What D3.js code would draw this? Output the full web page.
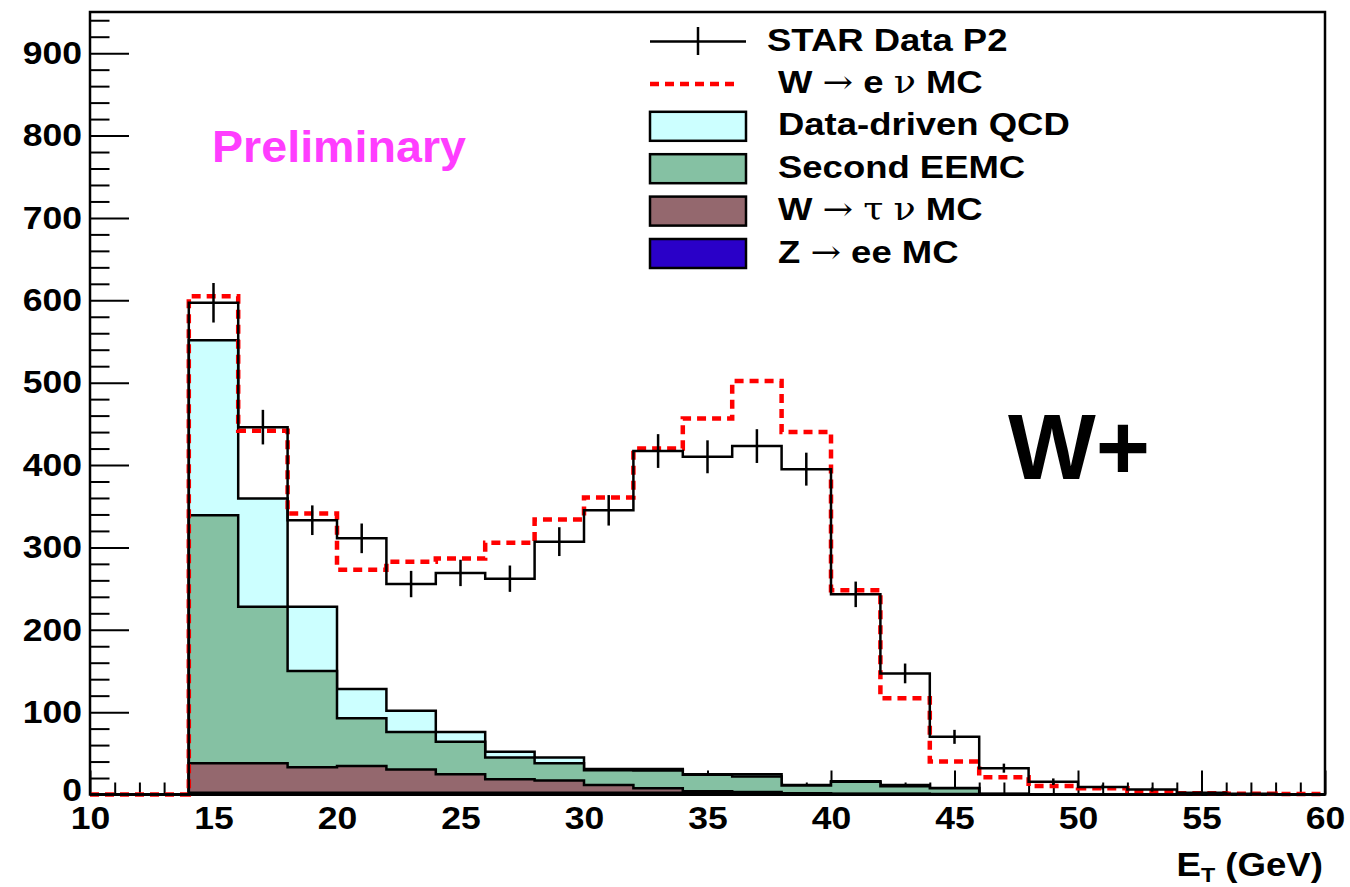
<!DOCTYPE html>
<html><head><meta charset="utf-8">
<script src="https://cdn.jsdelivr.net/npm/d3@7"></script>
<style>
body{margin:0;background:#fff}
svg{display:block}
text{font-family:"Liberation Sans",Arial,Helvetica,sans-serif;font-weight:bold;fill:#000}
</style>
</head><body>
<svg id="chart" width="1350" height="887"></svg>
<script>
// ---- data (bins of 2 GeV, low edges) ----
const binLow = [10,12,14,16,18,20,22,24,26,28,30,32,34,36,38,40,42,44,46,48,50,52,54,56,58];
const binWidth = 2;
const dataCounts = [0,0,597,446,333,311,255.5,269,262,307,345,417,410,423,395,243,147,70,32,15.5,9,6,2,1,0];
const dataErrors = [0,0,24,21,18,18,16,16,16,17.5,18.5,20.5,20,20.5,20,15.5,12,8.5,5.5,4,3,2.5,1.5,1,0];
const zee   = [0,0,2,2,2,2,2,2,2,2,2,2,1.5,1,1,0.5,0.5,0.3,0,0,0,0,0,0,0];
const wtau  = [0,0,36,36,31,32.5,28.5,22.5,16.5,15,9.5,5.5,2.5,2,0.5,0.5,0.3,0.2,0,0,0,0,0,0,0];
const eemc  = [0,0,301,190,117,58,45.5,39.5,26.5,21,18,21.5,20,19,9.5,14.5,9.2,7,0.5,0.2,0,0,0,0,0];
const qcd   = [0,0,212.5,131.5,78,35.5,25.7,12,7,7,1.5,2,0.5,2.5,0.5,0.5,1.5,0.5,0.3,0.1,0,0,0,0,0];
const wenu  = [0,0,53.5,82,113,145,180.8,210.6,253.6,289,329.7,389,432,477.5,428.5,232,105.5,32,20.2,10,7.5,4,1.5,1,0.5];

const xMajor = [10,15,20,25,30,35,40,45,50,55,60];
const yMajor = [0,100,200,300,400,500,600,700,800,900];

const legendLabels = ["STAR Data P2","W → e ν MC","Data-driven QCD","Second EEMC","W → τ ν MC","Z → ee MC"];
const colors = {qcd:"#ccffff", eemc:"#85c1a3", wtau:"#94686e", zee:"#2a00c8", wenu:"#ff0000"};

// ---- layout ----
const svg = d3.select("#chart");
const L = 90, R = 1325, T = 12, B = 794.5;
const x = d3.scaleLinear().domain([10,60]).range([L,R]);
const y = d3.scaleLinear().domain([0,950]).range([B,T]);
const SX = 1.11;

// minor ticks
const xMinor = d3.range(10,61,1).filter(v=>v%5!==0);
const yMinor = d3.range(0,950,20).filter(v=>v%100!==0);

// axes (drawn first so fills cover ticks, like the original)
const gx = svg.append("g").attr("transform",`translate(0,${B})`);
gx.call(d3.axisBottom(x).tickValues(xMinor).tickSize(-12).tickSizeOuter(0).tickFormat(""));
gx.call(g=>g.select(".domain").remove());
const gx2 = svg.append("g").attr("transform",`translate(0,${B})`);
gx2.call(d3.axisBottom(x).tickValues(xMajor).tickSize(-24).tickSizeOuter(0).tickPadding(12).tickFormat(d3.format("d")));
gx2.select(".domain").remove();

const gy = svg.append("g").attr("transform",`translate(${L},0)`);
gy.call(d3.axisLeft(y).tickValues(yMinor).tickSize(-19.5).tickSizeOuter(0).tickFormat(""));
gy.select(".domain").remove();
const gy2 = svg.append("g").attr("transform",`translate(${L},0)`);
gy2.call(d3.axisLeft(y).tickValues(yMajor).tickSize(-39).tickSizeOuter(0).tickPadding(8).tickFormat(d3.format("d")));
gy2.select(".domain").remove();

svg.selectAll(".tick line").attr("stroke","#000").attr("stroke-width",2);
svg.selectAll(".tick text").style("font-size","32px").attr("fill","#000")
  .attr("font-family",null)
  .each(function(d){
    const t = d3.select(this);
    const xx = +t.attr("x")||0;
    let yy = +t.attr("y")||0;
    // the "0" of the y axis sits just above the "10" of the x axis, as in the original
    if (this.parentNode.parentNode === gy2.node() && d === 0) yy -= 4;
    t.attr("transform",`translate(${xx},${yy}) scale(${SX},1)`).attr("x",0).attr("y",0);
  });

// ---- stacked backgrounds ----
const rows = binLow.map((b,i)=>({b, zee:zee[i], wtau:wtau[i], eemc:eemc[i], qcd:qcd[i], wenu:wenu[i]}));
rows.push(Object.assign({}, rows[rows.length-1], {b: binLow[binLow.length-1]+binWidth}));
const stack = d3.stack().keys(["zee","wtau","eemc","qcd","wenu"])(rows);
const byKey = {}; stack.forEach(s=>byKey[s.key]=s);

const area = d3.area().curve(d3.curveStepAfter).x(d=>x(d.data.b)).y0(y(0)).y1(d=>y(d[1]));
const line = d3.line().curve(d3.curveStepAfter).x(d=>x(d.data.b)).y(d=>y(d[1]));

["qcd","eemc","wtau","zee"].forEach(k=>{
  svg.append("path").datum(byKey[k]).attr("d",area)
    .attr("fill",colors[k]).attr("stroke","#000").attr("stroke-width",2.5).attr("stroke-linejoin","miter");
});

// total MC (W->e nu on top of backgrounds), red dashed
svg.append("path").datum(byKey["wenu"]).attr("d",line)
  .attr("fill","none").attr("stroke",colors.wenu).attr("stroke-width",4.5).attr("stroke-dasharray","9,6");

// ---- data ----
const dataPts = binLow.map((b,i)=>({b, v:dataCounts[i], e:dataErrors[i]}));
dataPts.push({b: binLow[binLow.length-1]+binWidth, v: dataCounts[dataCounts.length-1], e:0});
svg.append("path").datum(dataPts)
  .attr("d", d3.line().curve(d3.curveStepAfter).x(d=>x(d.b)).y(d=>y(d.v)))
  .attr("fill","none").attr("stroke","#000").attr("stroke-width",2.5);
svg.append("g").selectAll("line").data(dataPts.slice(0,-1).filter(d=>d.v>0)).join("line")
  .attr("x1",d=>x(d.b+binWidth/2)).attr("x2",d=>x(d.b+binWidth/2))
  .attr("y1",d=>y(d.v-d.e)).attr("y2",d=>y(d.v+d.e))
  .attr("stroke","#000").attr("stroke-width",2.5);

// ---- frame ----
svg.append("rect").attr("x",L).attr("y",T).attr("width",R-L).attr("height",B-T)
  .attr("fill","none").attr("stroke","#000").attr("stroke-width",2.5);

// ---- text helper ----
function stretchedText(str, px, py, size, sx, anchor){
  const t = svg.append("text").attr("transform",`translate(${px},${py}) scale(${sx},1)`)
    .attr("text-anchor",anchor||"start").style("font-size",size+"px");
  str.split(/([→ντ])/).filter(s=>s.length).forEach(seg=>{
    const ts = t.append("tspan").text(seg);
    if (/[→ντ]/.test(seg)) ts.style("font-weight","normal").attr("font-family","DejaVu Serif, serif");
  });
  return t;
}

// axis title E_T (GeV)
const at = svg.append("text").attr("transform",`translate(1323,876) scale(${SX},1)`)
  .attr("text-anchor","end").style("font-size","33px");
at.append("tspan").text("E");
at.append("tspan").text("T").style("font-size","21px").attr("dy",6);
at.append("tspan").text(" (GeV)").attr("dy",-6);

// Preliminary
svg.append("text").attr("transform","translate(212,162) scale(1.06,1)")
  .style("font-size","44px").style("fill","#ff3dff").text("Preliminary");

// W+
svg.append("text").attr("x",1008).attr("y",479).style("font-size","93px").text("W+");

// ---- legend ----
const legX0 = 650, legX1 = 746;
legendLabels.forEach((lab,i)=>{
  const cy = 41.5 + i*42.4;
  if (i===0){
    svg.append("line").attr("x1",legX0).attr("x2",legX1).attr("y1",cy).attr("y2",cy).attr("stroke","#000").attr("stroke-width",2.5);
    svg.append("line").attr("x1",(legX0+legX1)/2).attr("x2",(legX0+legX1)/2).attr("y1",cy-14.5).attr("y2",cy+13.5).attr("stroke","#000").attr("stroke-width",2.5);
  } else if (i===1){
    svg.append("line").attr("x1",legX0).attr("x2",legX1-8).attr("y1",cy).attr("y2",cy).attr("stroke",colors.wenu).attr("stroke-width",4.5).attr("stroke-dasharray","9,6");
  } else {
    const key = ["qcd","eemc","wtau","zee"][i-2];
    svg.append("rect").attr("x",legX0).attr("y",cy-14.5).attr("width",legX1-legX0).attr("height",29)
      .attr("fill",colors[key]).attr("stroke","#000").attr("stroke-width",2.5);
  }
  stretchedText(lab, i===0?767:778, cy+9, 32, 1.14, "start");
});
</script>
</body></html>
